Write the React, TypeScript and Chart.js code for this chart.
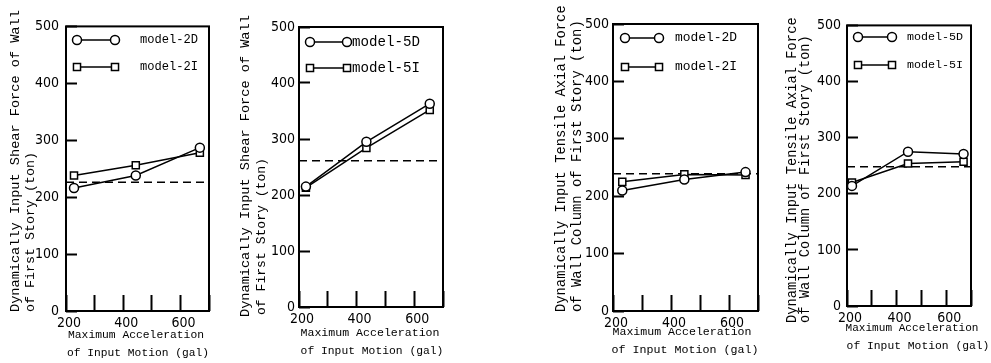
import React, { useEffect, useRef } from 'react';
import { Chart, registerables } from 'chart.js';

Chart.register(...registerables);

// ---------- data ----------
const accelShear2 = [228, 444, 668];
const shear2D = [216, 238, 287];
const shear2I = [238, 256, 278];
const shear2Ref = 226;

const accelShear5 = [224, 434, 654];
const shear5D = [215, 295, 363];
const shear5I = [213, 284, 352];
const shear5Ref = 261;

const accelAxial2 = [232, 446, 657];
const axial2D = [210, 229, 242];
const axial2I = [225, 238, 237];
const axial2Ref = 239;

const accelAxial5 = [220, 446, 670];
const axial5D = [214, 275, 271];
const axial5I = [220, 254, 257];
const axial5Ref = 248;

const xRange = [200, 700];
const yRange = [0, 500];
const xLabelTicks = [200, 400, 600];

const xTitle = ['Maximum Acceleration', 'of Input Motion (gal)'];
const shearTitle = ['Dynamically Input Shear Force of Wall', 'of First Story (ton)'];
const axialTitle = ['Dynamically Input Tensile Axial Force', 'of Wall Column of First Story (ton)'];

// ---------- styles ----------
const MONO = '"Liberation Mono", "DejaVu Sans Mono", monospace';
const NARROW = '"Liberation Sans Narrow", "DejaVu Sans Condensed", "Liberation Sans", sans-serif';

type PanelCfg = {
  left: number;
  width: number;
  box: [number, number, number, number];
  yLabelGap: number;
  yTitleText: string[];
  yTitle: [number, number, number][];
  xTitle: [number, number, number][];
  legendSym: [number, number];
  legendTx: number;
  legendLen: number;
  legendYs: [number, number];
  accel: number[];
  seriesD: number[];
  seriesI: number[];
  ref: number;
  labelD: string;
  labelI: string;
};

const panels: PanelCfg[] = [
  {
    left: 0, width: 238, box: [66, 25, 209, 311], yLabelGap: 7,
    yTitleText: shearTitle,
    yTitle: [[15, 312, 302], [30, 312, 160]],
    xTitle: [[136, 335, 136], [138, 353, 142]],
    legendSym: [77, 115], legendTx: 140, legendLen: 58, legendYs: [40, 67],
    accel: accelShear2, seriesD: shear2D, seriesI: shear2I, ref: shear2Ref,
    labelD: 'model-2D', labelI: 'model-2I',
  },
  {
    left: 238, width: 307, box: [299, 27, 443, 307], yLabelGap: 4,
    yTitleText: shearTitle,
    yTitle: [[245, 317, 302], [262, 315, 157]],
    xTitle: [[370, 333, 139], [372, 351, 143]],
    legendSym: [310, 347], legendTx: 352, legendLen: 68, legendYs: [42, 68],
    accel: accelShear5, seriesD: shear5D, seriesI: shear5I, ref: shear5Ref,
    labelD: 'model-5D', labelI: 'model-5I',
  },
  {
    left: 545, width: 235, box: [613, 24, 758, 311], yLabelGap: 4,
    yTitleText: axialTitle,
    yTitle: [[561, 312, 307], [577, 312, 292]],
    xTitle: [[682, 332, 139], [685, 350, 147]],
    legendSym: [625, 659], legendTx: 675, legendLen: 62, legendYs: [38, 67],
    accel: accelAxial2, seriesD: axial2D, seriesI: axial2I, ref: axial2Ref,
    labelD: 'model-2D', labelI: 'model-2I',
  },
  {
    left: 780, width: 211, box: [847, 23, 988, 306], yLabelGap: 6,
    yTitleText: axialTitle,
    yTitle: [[792, 323, 306], [805, 323, 288]],
    xTitle: [[912, 328, 133], [918, 346, 143]],
    legendSym: [858, 892], legendTx: 907, legendLen: 56, legendYs: [37, 65],
    accel: accelAxial5, seriesD: axial5D, seriesI: axial5I, ref: axial5Ref,
    labelD: 'model-5D', labelI: 'model-5I',
  },
];

function fitFont(ctx: CanvasRenderingContext2D, text: string, len: number, family: string) {
  ctx.font = `100px ${family}`;
  const w = ctx.measureText(text).width || 1;
  const size = (100 * len) / w;
  ctx.font = `${size}px ${family}`;
}

function drawMarker(ctx: CanvasRenderingContext2D, style: string, x: number, y: number, r: number) {
  ctx.beginPath();
  if (style === 'rect') {
    const s = Math.SQRT1_2 * r;
    ctx.rect(x - s, y - s, 2 * s, 2 * s);
  } else {
    ctx.arc(x, y, r, 0, Math.PI * 2);
  }
  ctx.fillStyle = '#fff';
  ctx.fill();
  ctx.lineWidth = 1.5;
  ctx.strokeStyle = '#000';
  ctx.stroke();
}

function makeDecorPlugin(cfg: PanelCfg) {
  const ox = cfg.left;
  return {
    id: 'decor',
    afterDraw(chart: any) {
      const ctx: CanvasRenderingContext2D = chart.ctx;
      const a = chart.chartArea;
      ctx.save();
      // frame
      ctx.strokeStyle = '#000';
      ctx.lineWidth = 2;
      ctx.strokeRect(a.left, a.top, a.right - a.left, a.bottom - a.top);

      ctx.fillStyle = '#000';
      // y title (rotated)
      cfg.yTitle.forEach(([x, y0, len], i) => {
        const text = cfg.yTitleText[i];
        ctx.save();
        fitFont(ctx, text, len, MONO);
        ctx.translate(x - ox, y0);
        ctx.rotate(-Math.PI / 2);
        ctx.textAlign = 'left';
        ctx.textBaseline = 'middle';
        ctx.fillStyle = '#000';
        ctx.fillText(text, 0, 0);
        ctx.restore();
      });
      // x title
      cfg.xTitle.forEach(([cx, y, len], i) => {
        const text = xTitle[i];
        fitFont(ctx, text, len, MONO);
        ctx.textAlign = 'center';
        ctx.textBaseline = 'middle';
        ctx.fillStyle = '#000';
        ctx.fillText(text, cx - ox, y);
      });
      // legend
      const legendSets = chart.data.datasets
        .filter((d: any) => d.legendIndex !== undefined)
        .sort((p: any, q: any) => p.legendIndex - q.legendIndex);
      legendSets.forEach((d: any, i: number) => {
        const y = cfg.legendYs[i];
        const x1 = cfg.legendSym[0] - ox;
        const x2 = cfg.legendSym[1] - ox;
        ctx.beginPath();
        ctx.moveTo(x1, y);
        ctx.lineTo(x2, y);
        ctx.lineWidth = 1.5;
        ctx.strokeStyle = '#000';
        ctx.stroke();
        drawMarker(ctx, d.pointStyle, x1, y, d.pointRadius);
        drawMarker(ctx, d.pointStyle, x2, y, d.pointRadius);
        ctx.fillStyle = '#000';
        fitFont(ctx, d.label, cfg.legendLen, MONO);
        ctx.textAlign = 'left';
        ctx.textBaseline = 'middle';
        ctx.fillText(d.label, cfg.legendTx - ox, y);
      });
      ctx.restore();
    },
  };
}

function Panel({ cfg }: { cfg: PanelCfg }) {
  const ref = useRef<HTMLCanvasElement | null>(null);
  useEffect(() => {
    const canvas = ref.current;
    if (!canvas) return;
    const [bl, bt, br, bb] = cfg.box;
    const yWidth = bl - cfg.left;
    const xHeight = 363 - bb;
    const padRight = cfg.left + cfg.width - br;
    const toPts = (vals: number[]) => cfg.accel.map((x, i) => ({ x, y: vals[i] }));
    const chart = new Chart(canvas, {
      type: 'line',
      data: {
        datasets: [
          {
            label: 'reference',
            data: [
              { x: xRange[0], y: cfg.ref },
              { x: xRange[1], y: cfg.ref },
            ],
            borderColor: '#000',
            borderWidth: 1.5,
            borderDash: [8, 5],
            pointRadius: 0,
            order: 2,
          } as any,
          {
            label: cfg.labelI,
            data: toPts(cfg.seriesI),
            borderColor: '#000',
            borderWidth: 1.5,
            pointStyle: 'rect',
            pointRadius: 5,
            pointBackgroundColor: '#fff',
            pointBorderColor: '#000',
            pointBorderWidth: 1.5,
            legendIndex: 1,
            order: 1,
          } as any,
          {
            label: cfg.labelD,
            data: toPts(cfg.seriesD),
            borderColor: '#000',
            borderWidth: 1.5,
            pointStyle: 'circle',
            pointRadius: 4.5,
            pointBackgroundColor: '#fff',
            pointBorderColor: '#000',
            pointBorderWidth: 1.5,
            legendIndex: 0,
            order: 0,
          } as any,
        ],
      },
      options: {
        responsive: false,
        animation: false,
        events: [],
        layout: { padding: { top: bt, right: padRight, left: 0, bottom: 0 } },
        plugins: {
          legend: { display: false },
          tooltip: { enabled: false },
          title: { display: false },
        },
        scales: {
          x: {
            type: 'linear',
            min: xRange[0],
            max: xRange[1],
            border: { display: false },
            grid: {
              drawOnChartArea: false,
              drawTicks: true,
              tickLength: -16,
              tickColor: '#000',
              tickWidth: 2,
            },
            ticks: {
              stepSize: 100,
              autoSkip: false,
              maxRotation: 0,
              padding: 20,
              labelOffset: 3,
              color: '#000',
              font: { family: NARROW, size: 14 },
              callback: (v: any) => (xLabelTicks.includes(Number(v)) ? String(v) : ''),
            },
            afterFit: (s: any) => {
              s.height = xHeight;
            },
          },
          y: {
            type: 'linear',
            min: yRange[0],
            max: yRange[1],
            border: { display: false },
            grid: {
              drawOnChartArea: false,
              drawTicks: true,
              tickLength: -11,
              tickColor: '#000',
              tickWidth: 2,
            },
            ticks: {
              stepSize: 100,
              padding: 11 + cfg.yLabelGap,
              color: '#000',
              font: { family: NARROW, size: 14 },
            },
            afterFit: (s: any) => {
              s.width = yWidth;
            },
          },
        },
      } as any,
      plugins: [makeDecorPlugin(cfg)],
    });
    return () => chart.destroy();
  }, [cfg]);
  return (
    <canvas
      ref={ref}
      width={cfg.width}
      height={363}
      style={{ position: 'absolute', left: cfg.left, top: 0, width: cfg.width, height: 363 }}
    />
  );
}

export default function App() {
  return (
    <div
      style={{
        position: 'absolute',
        left: 0,
        top: 0,
        width: 991,
        height: 363,
        background: '#fff',
        overflow: 'hidden',
      }}
    >
      {panels.map((p, i) => (
        <Panel key={i} cfg={p} />
      ))}
    </div>
  );
}
